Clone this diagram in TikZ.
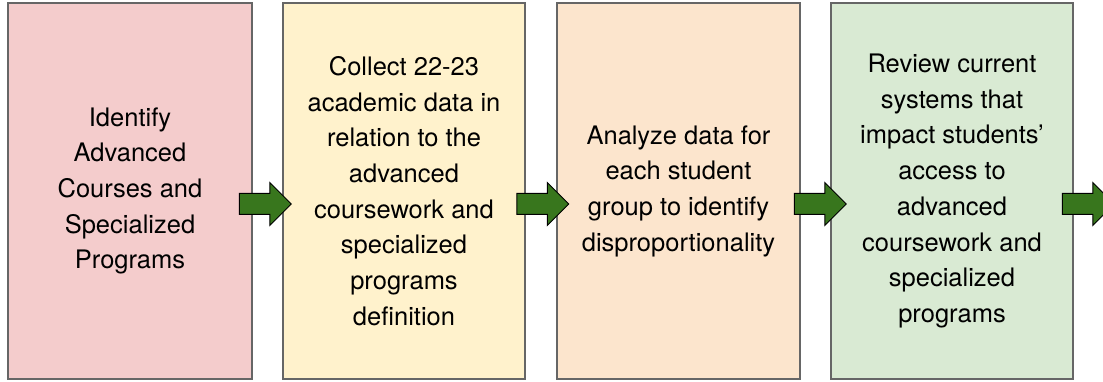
\documentclass[tikz,border=0pt]{standalone}
\usepackage{fontspec}
\setmainfont{TeX Gyre Heros}
\usetikzlibrary{shapes.arrows}

\definecolor{boxred}{HTML}{F4CCCC}
\definecolor{boxyellow}{HTML}{FFF2CC}
\definecolor{boxorange}{HTML}{FCE5CD}
\definecolor{boxgreen}{HTML}{D9EAD3}
\definecolor{boxline}{HTML}{666666}
\definecolor{arrowgreen}{HTML}{38761D}

\begin{document}
\begin{tikzpicture}[x=1pt,y=-1pt]

        \useasboundingbox (0,0) rectangle (1103,382);

        \begin{scope}[every node/.style={rectangle,draw=boxline,line width=1.3pt,
            minimum height=376pt,inner sep=0pt,align=center,
            font=\fontsize{25.5}{35.7}\selectfont}]
          \node[fill=boxred,minimum width=244pt]    (1) at (130,191)   {Identify\\Advanced\\Courses and\\Specialized\\Programs};
          \node[fill=boxyellow,minimum width=242pt] (2) at (404,191)   {Collect 22-23\\academic data in\\relation to the\\advanced\\coursework and\\specialized\\programs\\definition};
          \node[fill=boxorange,minimum width=243pt] (3) at (678.5,191) {Analyze data for\\each student\\group to identify\\disproportionality};
          \node[fill=boxgreen,minimum width=242pt]  (4) at (952,191)   {Review current\\systems that\\impact students’\\access to\\advanced\\coursework and\\specialized\\programs};
        \end{scope}

        \begin{scope}[every node/.style={single arrow,draw=black,fill=arrowgreen,
            line width=1pt,inner xsep=0pt,inner ysep=10pt,minimum height=52pt,
            single arrow head extend=11pt}]
          \node (a1) at (260,204)   {};
          \node (a2) at (537.5,204) {};
          \node (a3) at (815,204)   {};
          \node (a4) at (1083,204)  {};
        \end{scope}

      \end{tikzpicture}
\end{document}
